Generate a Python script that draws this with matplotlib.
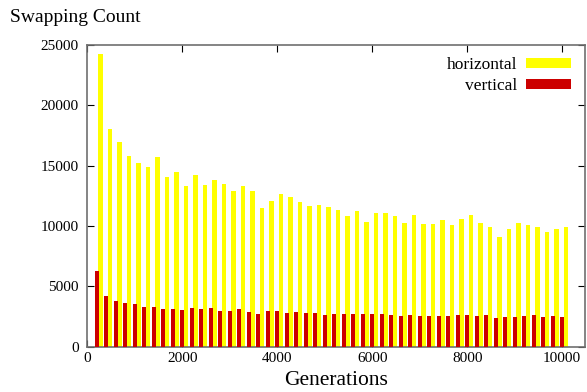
import numpy as np
import matplotlib
matplotlib.use("Agg")
from matplotlib import pyplot as plt

# generations (one group every 200)
generations = np.arange(200, 10001, 200)

horizontal = [24250, 18040, 16990, 15800, 15220, 14860, 15690, 14060, 14470, 13340,
              14200, 13400, 13810, 13450, 12870, 13340, 12870, 11490, 12040, 12650,
              12370, 11990, 11660, 11740, 11545, 11320, 10830, 11210, 10360, 11080,
              11050, 10830, 10220, 10910, 10160, 10160, 10500, 10050, 10550, 10910,
              10220, 9920, 9090, 9780, 10220, 10050, 9890, 9500, 9720, 9920]

vertical = [6300, 4200, 3780, 3590, 3510, 3290, 3290, 3120, 3120, 3010,
            3200, 3150, 3200, 2930, 2955, 3090, 2845, 2730, 2930, 2955,
            2790, 2845, 2790, 2790, 2650, 2700, 2700, 2700, 2680, 2730,
            2730, 2620, 2570, 2650, 2510, 2570, 2540, 2540, 2600, 2620,
            2570, 2620, 2400, 2490, 2490, 2570, 2600, 2490, 2540, 2490]

plt.rcParams['font.family'] = ['Liberation Serif', 'DejaVu Serif']

fig = plt.figure(figsize=(5.87, 3.92), dpi=100)
ax = fig.add_axes([0.1487, 0.1156, 0.8479, 0.7696])

ax.bar(generations + 80, horizontal, width=100, color='#ffff00', label='horizontal', zorder=2)
ax.bar(generations, vertical, width=90, color='#cc0000', label='vertical', zorder=3)

ax.set_xlim(0, 10480)
ax.set_ylim(0, 25000)
ax.set_xticks(np.arange(0, 10001, 2000))
ax.set_yticks(np.arange(0, 25001, 5000))
ax.tick_params(direction='in', length=5, top=True, right=True, labelsize=11, colors='black')
ax.tick_params(axis='x', pad=4)
ax.tick_params(axis='y', pad=6)
for s in ax.spines.values():
    s.set_color('#707070')
    s.set_linewidth(1.2)

ax.set_xlabel('Generations', fontsize=15.5, labelpad=4)
fig.text(10 / 587, 1 - 18 / 392, 'Swapping Count', fontsize=14, va='center', ha='left')

leg = ax.legend(loc='upper right', markerfirst=False, frameon=False, fontsize=12.5,
                handlelength=2.6, handleheight=0.55, labelspacing=0.3,
                borderaxespad=0.3, handletextpad=0.5, bbox_to_anchor=(0.996, 1.0))

fig.savefig('out.png', dpi=100)
